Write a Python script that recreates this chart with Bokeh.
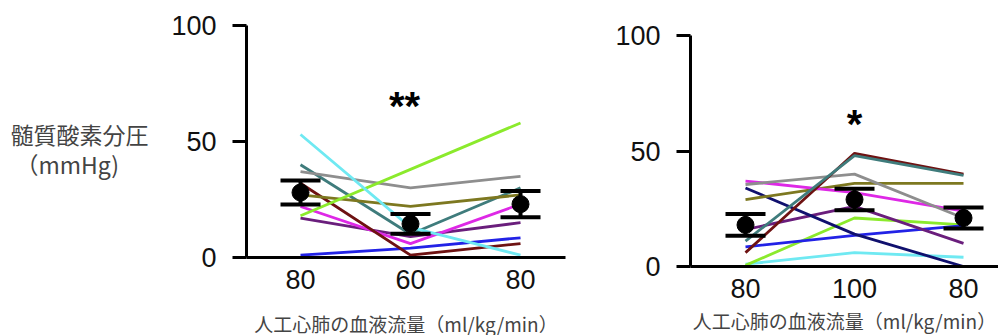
from bokeh.plotting import figure
from bokeh.models import FixedTicker, Whisker, TeeHead, ColumnDataSource, Label, Range1d, Spacer
from bokeh.layouts import row, column
from bokeh.core.properties import value
from bokeh.embed import file_html
from bokeh.resources import INLINE

# ---------------- data ----------------
positions = [1, 2, 3]
left_ticks = ["80", "60", "80"]
right_ticks = ["80", "100", "80"]

left_cyan = [53, 13, 1]
left_lime = [18, 38, 58]
left_gray = [37, 30, 35]
left_olive = [27, 22, 27]
left_teal = [40, 10, 30]
left_maroon = [32, 1, 6]
left_magenta = [22, 6, 23]
left_purple = [17, 9, 15]
left_blue = [1, 4, 8.5]
left_mean = [28, 14.5, 23]
left_sem = [5.2, 4.3, 5.7]

right_maroon = [6, 49, 40]
right_teal = [11, 48, 39.5]
right_gray = [35.5, 40, 21]
right_magenta = [37, 32, 24]
right_olive = [29, 36, 36]
right_navy = [34, 14, 0]
right_purple = [16, 26, 10]
right_blue = [8.5, 13.5, 17.7]
right_lime = [0.5, 21, 18]
right_cyan = [1, 6, 4]
right_mean = [18, 29, 21]
right_sem = [4.7, 4.7, 4.5]

y_label_lines = ["髄質酸素分圧", "（mmHg)"]
x_label = "人工心肺の血液流量（ml/kg/min）"

COL = {
    "cyan": "#6FE9F2", "lime": "#8BEA2C", "gray": "#8E8E8E", "olive": "#7D7820",
    "teal": "#3F7C7C", "maroon": "#6E1212", "magenta": "#DE28E6", "purple": "#6A1E7C",
    "blue": "#2222E6", "navy": "#10106E",
}

left_series = [
    ("blue", left_blue), ("purple", left_purple), ("magenta", left_magenta),
    ("maroon", left_maroon), ("teal", left_teal), ("olive", left_olive),
    ("gray", left_gray), ("lime", left_lime), ("cyan", left_cyan),
]
right_series = [
    ("cyan", right_cyan), ("lime", right_lime), ("blue", right_blue),
    ("purple", right_purple), ("navy", right_navy), ("olive", right_olive),
    ("magenta", right_magenta), ("gray", right_gray), ("maroon", right_maroon),
    ("teal", right_teal),
]

TICK_FONT = "Liberation Sans"
CJK_FONT = "Noto Sans CJK JP"


def panel(fw, fh, bl, br, bt, bb, xr, series, mean, sem, ticks, label_standoff):
    p = figure(frame_width=fw, frame_height=fh, output_backend="svg", toolbar_location=None,
               x_range=Range1d(*xr), y_range=Range1d(0, 100),
               min_border_left=bl, min_border_right=br, min_border_top=bt,
               min_border_bottom=bb)
    p.outline_line_color = None
    p.grid.visible = False
    p.background_fill_color = "white"
    p.border_fill_color = "white"

    for name, vals in series:
        p.line(positions, vals, line_color=COL[name], line_width=2.8)

    upper = [m + s for m, s in zip(mean, sem)]
    lower = [m - s for m, s in zip(mean, sem)]
    src = ColumnDataSource(dict(x=positions, m=mean, up=upper, lo=lower))
    w = Whisker(base="x", upper="up", lower="lo", source=src, line_width=4,
                line_color="black", level="overlay",
                upper_head=TeeHead(size=40, line_width=4, line_color="black"),
                lower_head=TeeHead(size=40, line_width=4, line_color="black"))
    p.add_layout(w)
    p.scatter("x", "m", source=src, size=17, color="black", level="overlay")

    ya = p.yaxis[0]
    ya.ticker = FixedTicker(ticks=[0, 50, 100])
    ya.minor_tick_line_color = None
    ya.axis_line_width = 3
    ya.major_tick_line_width = 3
    ya.major_tick_out = 14
    ya.major_tick_in = 0
    ya.major_label_standoff = 16
    ya.major_label_text_font = TICK_FONT
    ya.major_label_text_font_size = "27px"
    ya.major_label_text_color = "#111111"

    xa = p.xaxis[0]
    xa.ticker = FixedTicker(ticks=positions)
    xa.major_label_overrides = {pos: t for pos, t in zip(positions, ticks)}
    xa.minor_tick_line_color = None
    xa.major_tick_line_color = None
    xa.major_tick_out = 0
    xa.major_tick_in = 0
    xa.axis_line_width = 3
    xa.major_label_standoff = 12
    xa.major_label_text_font = TICK_FONT
    xa.major_label_text_font_size = "27px"
    xa.major_label_text_color = "#111111"
    xa.axis_label = x_label
    xa.axis_label_text_font = CJK_FONT
    xa.axis_label_text_font_size = "19px"
    xa.axis_label_text_font_style = "normal"
    xa.axis_label_text_color = "#444444"
    xa.axis_label_standoff = label_standoff
    return p


# y-label strip (page x 0..160, frame from page y 25)
p0 = figure(frame_width=160, frame_height=232, output_backend="svg", toolbar_location=None,
            x_range=Range1d(0, 160), y_range=Range1d(232, 0),
            min_border_left=0, min_border_right=0, min_border_top=25, min_border_bottom=78)
p0.axis.visible = False
p0.grid.visible = False
p0.outline_line_color = None
p0.text(x=[10, 15], y=[108, 138], text=y_label_lines, text_font=value(CJK_FONT),
        text_font_size="23px", text_color="#444444", text_baseline="middle", text_align="left")

# left panel: frame page x 246..565, y 25..257
p1 = panel(319, 232, 86, 3, 25, 78, (0.509, 3.409), left_series, left_mean, left_sem,
           left_ticks, 18)
# right panel: frame page x 690..998, y 35..266
p2 = panel(308, 231, 122, 0, 25, 69, (0.4954, 3.321), right_series, right_mean, right_sem,
           right_ticks, 6)

# significance marks
p1.add_layout(Label(x=2, y=65.5, x_offset=-6, text="**", text_font=TICK_FONT, text_font_size="40px",
                    text_font_style="bold", text_color="black", text_baseline="middle",
                    text_align="center"))
p2.add_layout(Label(x=2, y=61.5, text="*", text_font=TICK_FONT, text_font_size="40px",
                    text_font_style="bold", text_color="black", text_baseline="middle",
                    text_align="center"))

layout = row(p0, p1, column(Spacer(height=10), p2))
open("out.html", "w").write(file_html(layout, INLINE))
